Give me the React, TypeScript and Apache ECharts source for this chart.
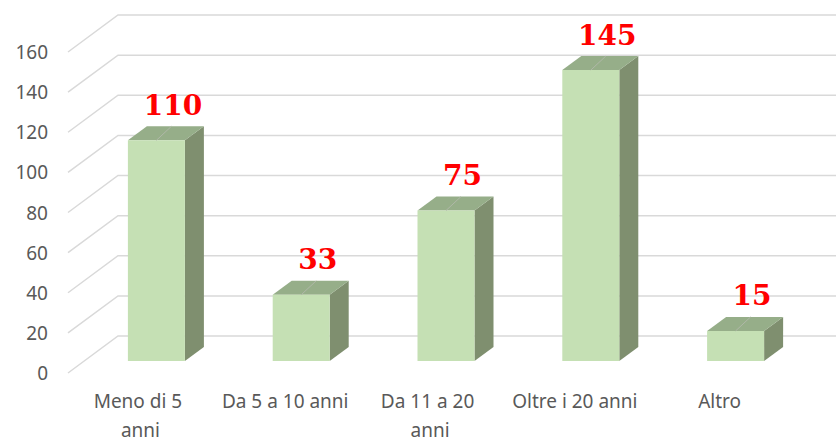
import React, { useEffect, useRef } from "react";
import * as echarts from "echarts";

const categories = ["Meno di 5 anni", "Da 5 a 10 anni", "Da 11 a 20 anni", "Oltre i 20 anni", "Altro"];
const values = [110, 33, 75, 145, 15];
const yTicks = [0, 20, 40, 60, 80, 100, 120, 140, 160];

const DEPTH_X = 50;
const DEPTH_Y = -37;
const BAR_OFF_X = 16;
const BAR_OFF_Y = -12;
const BAR_W = 57;
const BAR_DX = 19;
const BAR_DY = -14;

export default function App() {
  const ref = useRef<HTMLDivElement>(null);
  useEffect(() => {
    if (!ref.current) return;
    const chart = echarts.init(ref.current, null, { renderer: "svg" });
    chart.setOption({
      animation: false,
      backgroundColor: "#ffffff",
      grid: { left: 68, right: 44, top: 52, bottom: 65 },
      xAxis: {
        type: "category",
        data: categories,
        axisLine: { show: false },
        axisTick: { show: false },
        axisLabel: {
          color: "#595959",
          fontFamily: "Noto Sans",
          fontSize: 19,
          lineHeight: 29,
          margin: 13,
          width: 129,
          overflow: "break",
          interval: 0,
        },
      },
      yAxis: {
        type: "value",
        min: 0,
        max: 160,
        interval: 20,
        splitLine: { show: false },
        axisLine: { show: false },
        axisTick: { show: false },
        axisLabel: {
          color: "#595959",
          fontFamily: "Noto Sans",
          fontSize: 19,
          margin: 20,
        },
      },
      series: [
        {
          type: "custom",
          z: 1,
          data: yTicks.map((t) => [0, t]),
          encode: { x: 0, y: 1 },
          renderItem: (params: any, api: any) => {
            const cs = params.coordSys;
            const y = api.coord([0, api.value(1)])[1];
            const left = cs.x;
            const right = cs.x + cs.width;
            return {
              type: "polyline",
              shape: {
                points: [
                  [left, y],
                  [left + DEPTH_X, y + DEPTH_Y],
                  [right + DEPTH_X, y + DEPTH_Y],
                ],
              },
              style: { stroke: "#d9d9d9", lineWidth: 1.5, fill: null },
              silent: true,
            };
          },
        },
        {
          type: "custom",
          z: 2,
          data: values.map((v, i) => [i, v]),
          encode: { x: 0, y: 1 },
          renderItem: (params: any, api: any) => {
            const i = api.value(0);
            const v = api.value(1);
            const base = api.coord([i, 0]);
            const top = api.coord([i, v]);
            const cx = base[0] + BAR_OFF_X;
            const xl = cx - BAR_W / 2;
            const xr = cx + BAR_W / 2;
            const yb = base[1] + BAR_OFF_Y;
            const yt = top[1] + BAR_OFF_Y;
            return {
              type: "group",
              children: [
                {
                  type: "polygon",
                  shape: { points: [[xr, yt], [xr + BAR_DX, yt + BAR_DY], [xr + BAR_DX, yb + BAR_DY], [xr, yb]] },
                  style: { fill: "#7f8f6f" },
                },
                {
                  type: "polygon",
                  shape: { points: [[xl, yt], [xr, yt], [xr + BAR_DX, yt + BAR_DY], [xl + BAR_DX, yt + BAR_DY]] },
                  style: { fill: "#96ae89" },
                },
                {
                  type: "rect",
                  shape: { x: xl, y: yt, width: BAR_W, height: yb - yt },
                  style: { fill: "#c5e0b4" },
                },
                {
                  type: "line",
                  shape: { x1: cx, y1: yt, x2: cx + 15, y2: yt + BAR_DY },
                  style: { stroke: "#b0b8a8", lineWidth: 1 },
                },
                {
                  type: "text",
                  x: cx + BAR_DX / 2 + 7,
                  y: yt + BAR_DY - 21,
                  style: {
                    text: String(v),
                    fill: "#ff0000",
                    fontFamily: "DejaVu Serif",
                    fontWeight: "bold",
                    fontSize: 28,
                    align: "center",
                    verticalAlign: "middle",
                  },
                },
              ],
            };
          },
        },
      ],
    });
    return () => chart.dispose();
  }, []);
  return <div ref={ref} style={{ width: 836, height: 444, position: "absolute", left: 0, top: 0 }} />;
}
